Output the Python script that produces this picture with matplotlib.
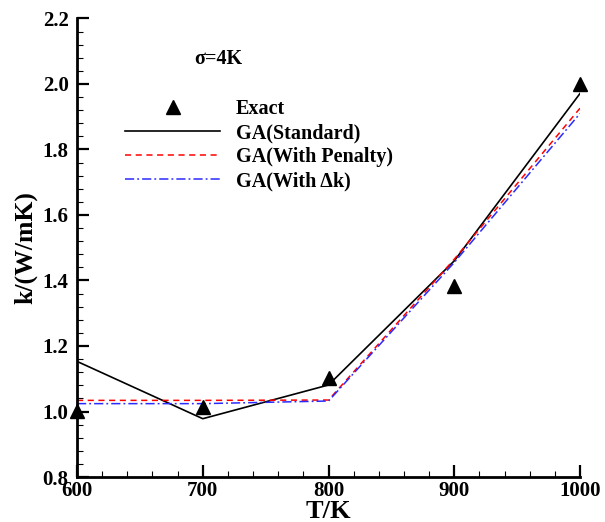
#!/usr/bin/env python3
import matplotlib

matplotlib.use("Agg")
import matplotlib.pyplot as plt
from matplotlib.ticker import MultipleLocator

# data
temperature = [600, 700, 800, 900, 1000]
k_exact = [1.002, 1.013, 1.101, 1.383, 2.0]
k_standard = [1.153, 0.978, 1.081, 1.460, 1.971]
k_penalty = [1.034, 1.034, 1.035, 1.465, 1.926]
k_delta = [1.024, 1.024, 1.032, 1.455, 1.910]

labels = ["Exact", "GA(Standard)", "GA(With Penalty)", "GA(With \u0394k)"]
x_ticks = [600, 700, 800, 900, 1000]
y_ticks = [0.8, 1.0, 1.2, 1.4, 1.6, 1.8, 2.0, 2.2]

plt.rcParams.update(
    {
        "font.family": ["Liberation Serif", "DejaVu Serif"],
        "font.weight": "bold",
        "font.size": 14.5,
        "axes.linewidth": 2.0,
        "xtick.direction": "in",
        "ytick.direction": "in",
        "xtick.major.size": 8.5,
        "ytick.major.size": 8.5,
        "xtick.minor.size": 4.5,
        "ytick.minor.size": 4.5,
        "xtick.major.width": 1.6,
        "ytick.major.width": 1.6,
        "xtick.minor.width": 0.8,
        "ytick.minor.width": 0.8,
    }
)

fig = plt.figure(figsize=(6.05, 5.22), dpi=100)
ax = fig.add_axes([0.1273, 0.0862, 0.8314, 0.8784])

ax.plot(temperature, k_exact, linestyle="none", marker="^", markersize=10.5,
        color="black", label=labels[0], clip_on=False, zorder=5)
ax.plot(temperature, k_standard, color="black", linewidth=1.2, label=labels[1])
ax.plot(temperature, k_penalty, color="#ff0000", linewidth=1.1,
        linestyle=(0, (4, 3)), label=labels[2])
ax.plot(temperature, k_delta, color="#2a2aff", linewidth=1.1,
        linestyle=(0, (6, 2, 1.2, 2)), label=labels[3])

ax.set_xlim(600, 1000)
ax.set_ylim(0.8, 2.2)
ax.set_xticks(x_ticks)
ax.set_yticks(y_ticks)
ax.xaxis.set_minor_locator(MultipleLocator(20))
ax.yaxis.set_minor_locator(MultipleLocator(0.04))
ax.set_yticklabels([f"{v:.1f}" for v in y_ticks])
ax.tick_params(axis="x", which="major", pad=3, labelsize=15)
ax.tick_params(axis="y", which="major", pad=6, labelsize=15)

for side in ("top", "right"):
    ax.spines[side].set_visible(False)

ax.set_xlabel("T/K", fontsize=19, fontweight="bold", labelpad=-1)
ax.set_ylabel("k/(W/mK)", fontsize=18.5, fontweight="bold", labelpad=4)

ax.text(0.234, 0.912, "\u03c3=4K", transform=ax.transAxes, fontsize=14.5,
        fontweight="bold", ha="left", va="center")

ax.legend(loc="upper left", bbox_to_anchor=(0.08, 0.841), frameon=False,
          numpoints=1, handlelength=4.7, handletextpad=0.8, labelspacing=0.2,
          borderaxespad=0.0, prop={"weight": "bold", "size": 14.5})

fig.savefig("out.png", dpi=100)
plt.close(fig)
